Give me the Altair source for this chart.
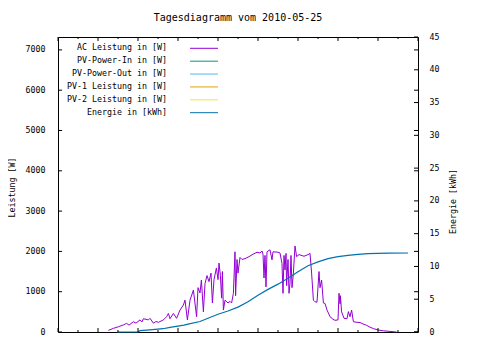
import altair as alt
import pandas as pd

# ---------------- data ----------------
ac_hours = [6.52, 6.77, 7.02, 7.27, 7.43, 7.55, 7.77, 7.9, 8.1, 8.2, 8.27, 8.52, 8.6, 8.77,
            8.9, 9.02, 9.27, 9.43, 9.52, 9.6, 9.77, 9.93, 10.1, 10.27, 10.35, 10.47, 10.6,
            10.77, 10.93, 11.0, 11.1, 11.17, 11.27, 11.35, 11.45, 11.55, 11.65, 11.72, 11.8,
            11.92, 12.0, 12.05, 12.12, 12.18, 12.22, 12.27, 12.35, 12.5, 12.6, 12.68, 12.77,
            12.85, 12.88, 12.95, 13.0, 13.1, 13.2, 13.35, 13.55, 13.75, 13.95, 14.1, 14.2,
            14.25, 14.3, 14.35, 14.4, 14.45, 14.6, 14.7, 14.75, 15.0, 15.1, 15.2, 15.25,
            15.3, 15.35, 15.4, 15.43, 15.5, 15.55, 15.6, 15.65, 15.7, 15.77, 15.85, 15.93,
            16.05, 16.3, 16.5, 16.6, 16.68, 16.77, 16.85, 16.95, 17.05, 17.1, 17.18, 17.27,
            17.35, 17.45, 17.52, 17.6, 17.75, 17.85, 18.0, 18.05, 18.1, 18.12, 18.18, 18.3,
            18.45, 18.52, 18.6, 18.68, 18.77, 18.95, 19.1, 19.25, 19.43, 19.6, 19.77, 20.0,
            20.27, 20.6, 20.93]
ac_power = [40, 90, 130, 175, 215, 170, 255, 220, 300, 250, 330, 300, 340, 220,
            260, 240, 300, 380, 460, 330, 460, 340, 545, 670, 790, 300, 790,
            1040, 380, 1100, 970, 1290, 500, 1200, 1400, 1250, 1460, 720, 1300,
            1590, 1300, 1710, 1400, 840, 1500, 545, 790, 720, 760, 720, 960,
            1990, 900, 1800, 1460, 1850, 1800, 1820, 1870, 1930, 1980, 1960, 2010,
            1930, 1340, 1900, 1120, 1990, 2040, 1790, 1990, 1980, 1960, 1700, 960,
            1900, 1540, 1950, 1150, 1800, 960, 1210, 1900, 1100, 1460, 2135, 1870,
            1920, 1880, 1920, 1950, 1460, 790, 750, 740, 1500, 1100, 1290, 720,
            710, 545, 470, 380, 315, 290, 300, 960, 700, 900, 500, 340,
            330, 505, 380, 545, 255, 240, 235, 200, 165, 120, 85, 50,
            30, 15, 0]

e_hours = [6.95, 8.0, 8.1, 8.45, 9.25, 9.6, 10.3, 10.5, 11.1, 11.5, 12.0, 12.5, 13.0, 13.5,
           14.0, 14.5, 15.0, 15.5, 16.0, 16.5, 17.0, 17.5, 18.0, 18.5, 19.0, 19.5,
           20.0, 20.5, 21.5]
e_energy = [0.0, 0.0, 0.2, 0.3, 0.5, 0.7, 1.05, 1.2, 1.6, 2.1, 2.7, 3.2, 3.8, 4.6,
            5.6, 6.5, 7.3, 8.2, 9.2, 10.1, 10.7, 11.2, 11.5, 11.7, 11.85, 11.95,
            12.0, 12.03, 12.05]

series_names = ["AC Leistung in [W]", "PV-Power-In in [W]", "PV-Power-Out in [W]",
                "PV-1 Leistung in [W]", "PV-2 Leistung in [W]", "Energie in [kWh]"]
series_colors = ["#9400D3", "#009E73", "#56B4E9", "#E69F00", "#F0E442", "#0072B2"]

x_major = [4, 6, 8, 10, 12, 14, 16, 18, 20, 22]
x_minor = [5, 7, 9, 11, 13, 15, 17, 19, 21]
power_ticks = [0, 1000, 2000, 3000, 4000, 5000, 6000, 7000]
energy_ticks = [0, 5, 10, 15, 20, 25, 30, 35, 40, 45]

# ---------------- layout / style ----------------
W, H = 360, 295
FONT = "DejaVu Sans Mono"
FS = 8.3

xscale = alt.Scale(domain=[4, 22], nice=False, zero=False)
pscale = alt.Scale(domain=[0, 7320], nice=False)
escale = alt.Scale(domain=[0, 45], nice=False)

ac_df = pd.DataFrame({"h": ac_hours, "p": ac_power})
e_df = pd.DataFrame({"h": e_hours, "e": e_energy})

power = alt.Chart(ac_df).mark_line(color=series_colors[0], strokeWidth=1).encode(
    x=alt.X("h:Q", scale=xscale,
            axis=alt.Axis(values=x_major, title=None, tickSize=0, domain=False, grid=False,
                          labelExpr="(datum.value < 10 ? '0' : '') + datum.value + ':00'",
                          labelPadding=9, labelFlush=False, labelOverlap=False)),
    y=alt.Y("p:Q", scale=pscale,
            axis=alt.Axis(values=power_ticks, format="d", title="Leistung [W]", orient="left",
                          tickSize=0, domain=False, grid=False, labelPadding=13,
                          titleX=-46, titleY=150, titleAngle=270, titleBaseline="middle",
                          titleAlign="center")),
)

energy = alt.Chart(e_df).mark_line(color=series_colors[5], strokeWidth=1.2).encode(
    x=alt.X("h:Q", scale=xscale, axis=None),
    y=alt.Y("e:Q", scale=escale,
            axis=alt.Axis(values=energy_ticks, format="d", title="Energie [kWh]", orient="right",
                          tickSize=0, domain=False, grid=False, labelPadding=11,
                          titleX=35, titleY=164, titleAngle=270, titleBaseline="middle",
                          titleAlign="center")),
)

# inward tick marks (gnuplot style)
xmaj = pd.DataFrame({"t": x_major})
xmin = pd.DataFrame({"t": x_minor})
ptk = pd.DataFrame({"v": power_ticks})
etk = pd.DataFrame({"v": energy_ticks})

def xtick(df, y0, y1):
    return alt.Chart(df).mark_rule(color="black", strokeWidth=1).encode(
        x=alt.X("t:Q", scale=xscale, axis=None), y=alt.value(y0), y2=alt.value(y1))

def ytick(df, scale, x0, x1):
    return alt.Chart(df).mark_rule(color="black", strokeWidth=1).encode(
        y=alt.Y("v:Q", scale=scale, axis=None), x=alt.value(x0), x2=alt.value(x1))

ticks = [
    xtick(xmaj, H, H - 4), xtick(xmin, H, H - 2),
    xtick(xmaj, 0, 4), xtick(xmin, 0, 2),
    ytick(ptk, pscale, 0, 4), ytick(ptk, pscale, W - 4, W),
    ytick(etk, escale, W - 4, W),
]

# gnuplot style key
leg_df = pd.DataFrame({"name": series_names, "color": series_colors})
yleg = alt.Y("name:N", scale=alt.Scale(type="point", domain=series_names,
                                       range=[11.3, 75.7], padding=0), axis=None)
leg_text = alt.Chart(leg_df).mark_text(align="right", baseline="middle", font=FONT,
                                       fontSize=FS, color="black").encode(
    x=alt.value(109), y=yleg, text="name:N")
leg_line = alt.Chart(leg_df).mark_rule(strokeWidth=1).encode(
    x=alt.value(132), x2=alt.value(160), y=yleg, color=alt.Color("color:N", scale=None))

chart = alt.layer(power, energy, *ticks, leg_text, leg_line).resolve_scale(
    y="independent"
).properties(
    width=W, height=H,
    autosize=alt.AutoSizeParams(type="none"),
    padding={"left": 50, "top": 29, "right": 54, "bottom": 20},
    title=alt.TitleParams("Tagesdiagramm vom 2010-05-25", font=FONT, fontSize=10,
                          fontWeight="normal", anchor="middle", frame="group",
                          offset=9, color="black"),
).configure_view(
    stroke="black", strokeWidth=1
).configure_axis(
    labelFont=FONT, labelFontSize=FS, labelColor="black",
    titleFont=FONT, titleFontSize=FS, titleColor="black", titleFontWeight="normal",
)

chart.save("out.html", embed_options={"renderer": "svg", "actions": False})
